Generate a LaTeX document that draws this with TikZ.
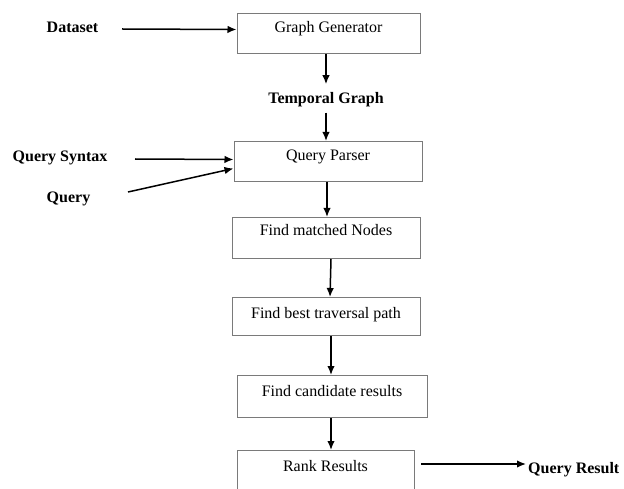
\documentclass[tikz,border=0pt]{standalone}
\usepackage{fontspec}
\setmainfont{Liberation Serif}
\usetikzlibrary{arrows.meta,calc}
\definecolor{boxgray}{HTML}{7A7A7A}
\begin{document}
\begin{tikzpicture}[x=1bp,y=-1bp,
  txt/.style={font=\fontsize{16bp}{19bp}\selectfont},
  box/.style n args={3}{txt, draw=boxgray, line width=1bp, inner sep=0pt, anchor=north,
    minimum width=#1, text height=#2, text depth=#3},
  lab/.style={font=\fontsize{16bp}{19bp}\selectfont\bfseries, inner sep=0pt, anchor=base},
  arr/.style={draw=black, line width=1.5bp, -{Latex[length=9bp,width=7.5bp]}}]
\useasboundingbox (0,0) rectangle (624,489);
\clip (0,0) rectangle (624,489);

% boxes
\node[box={183bp}{19bp}{21bp}]     (gg) at (328.5,13)  {Graph Generator};
\node[box={188bp}{19bp}{21bp}]     (qp) at (328,141)   {Query Parser};
\node[box={188bp}{18.5bp}{22.5bp}] (fm) at (326,217)   {Find matched Nodes};
\node[box={188bp}{20.5bp}{17.5bp}] (fb) at (326,297)   {Find best traversal path};
\node[box={190bp}{20.5bp}{21.5bp}] (fc) at (332,375)   {Find candidate results};
\node[box={177bp}{20.5bp}{24.5bp}] (rr) at (325.5,450) {Rank Results};

% labels
\node[lab] (ds) at (72.5,32.5)  {Dataset};
\node[lab] (tg) at (326,103.5)  {Temporal Graph};
\node[lab] (qs) at (60,161.5)   {Query Syntax};
\node[lab] (q)  at (68.5,202.5) {Query};
\node[lab, anchor=base west] (qr) at (528,473) {Query Result};

% connectors
\coordinate (a1) at (122,29);
\draw[arr] (a1) -- ([yshift=4bp]gg.west);
\draw[arr] (gg.south -| tg.north) -- ([yshift=8bp]tg.north);
\draw[arr, shorten <=5.5bp] (tg.south) -- (tg.south |- qp.north);
\coordinate (a4) at (135,159);
\draw[arr] (a4) -- ([yshift=2bp]qp.west);
\coordinate (a5) at (128,192);
\draw[arr] (a5) -- ([yshift=-7bp]qp.west);
\draw[arr] ([xshift=-1bp]qp.south) -- ([xshift=-1bp]qp.south |- fm.north);
\draw[arr] ([xshift=5bp]fm.south) -- ([xshift=4bp]fb.north);
\draw[arr] ([xshift=-1bp]fc.north |- fb.south) -- ([xshift=-1bp]fc.north);
\draw[arr] ([xshift=-1bp]fc.south) -- ([xshift=-1bp]fc.south |- rr.north);
\coordinate (a10) at (421,464);
\draw[arr, shorten >=2bp] (a10) -- (a10 -| qr.west);
\end{tikzpicture}
\end{document}
